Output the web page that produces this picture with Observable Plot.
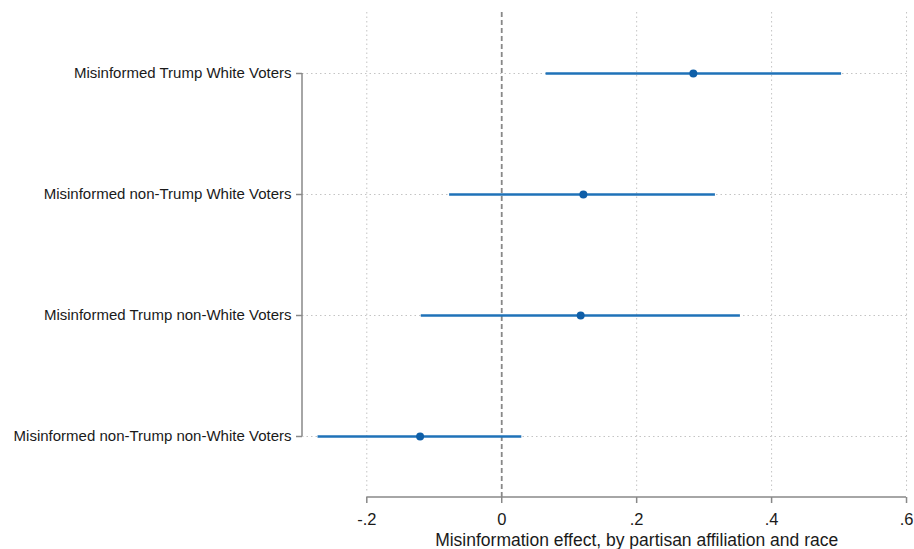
<!DOCTYPE html>
<html><head><meta charset="utf-8">
<script src="https://cdn.jsdelivr.net/npm/d3@7"></script>
<script src="https://cdn.jsdelivr.net/npm/@observablehq/plot@0.6"></script>
<style>body{margin:0;background:#fff;} svg{display:block}</style>
</head><body><div id="chart"></div>
<script>
const groups = [
  "Misinformed Trump White Voters",
  "Misinformed non-Trump White Voters",
  "Misinformed Trump non-White Voters",
  "Misinformed non-Trump non-White Voters"
];
const estimates = [0.284, 0.121, 0.117, -0.121];
const lowerCI = [0.065, -0.078, -0.120, -0.273];
const upperCI = [0.503, 0.316, 0.353, 0.029];
const xTicks = [-0.2, 0, 0.2, 0.4, 0.6];
const xTickLabels = ["-.2", "0", ".2", ".4", ".6"];
const xTitle = "Misinformation effect, by partisan affiliation and race";

const data = groups.map((g, i) => ({group: g, est: estimates[i], lo: lowerCI[i], hi: upperCI[i]}));
const xDomain = [-0.2953, 0.6044];
const gridTicks = xTicks.filter(v => v !== 0);
const W = 914, H = 549, MB = 52, ML = 302;

const chart = Plot.plot({
  width: W, height: H,
  marginLeft: ML, marginRight: 5, marginTop: 12, marginBottom: MB,
  style: {fontFamily: "Arial, 'Liberation Sans', sans-serif", fontSize: "15px", color: "#1a1a1a", background: "#fff"},
  x: {domain: xDomain},
  y: {type: "point", domain: groups, padding: 0.5},
  marks: [
    Plot.ruleX(gridTicks, {stroke: "#c4c4c4", strokeDasharray: "1.5,3", strokeWidth: 1, insetBottom: 6}),
    Plot.ruleY(groups, {y: d => d, stroke: "#c4c4c4", strokeDasharray: "1.5,3", strokeWidth: 1}),
    Plot.ruleX([0], {stroke: "#888", strokeWidth: 1.8, strokeDasharray: "5,3"}),
    Plot.axisY({tickSize: 6, tickPadding: 5, stroke: "#888", strokeWidth: 1.5, label: null, fontSize: 15, fill: "#1a1a1a"}),
    Plot.axisX({ticks: xTicks, tickFormat: d => xTickLabels[xTicks.indexOf(d)], tickSize: 6, tickPadding: 10, label: null, stroke: "#888", strokeWidth: 1.5, fontSize: 16.5, fill: "#1a1a1a"}),
    Plot.link(data, {x1: "lo", x2: "hi", y1: "group", y2: "group", stroke: "#1f72b8", strokeWidth: 2.5}),
    Plot.dot(data, {x: "est", y: "group", r: 4, fill: "#0f5fa8"}),
    Plot.text([xTitle], {x: () => (xTicks[0] + xTicks[xTicks.length - 1]) / 2, text: d => d, frameAnchor: "bottom", dy: 48, fontSize: 17.5, fill: "#1a1a1a"})
  ]
});

const xs = chart.scale("x");
const ys = chart.scale("y");
const svg = d3.select(chart);
svg.append("line")
  .attr("x1", xs.apply(xTicks[0])).attr("x2", xs.apply(xTicks[xTicks.length - 1]))
  .attr("y1", H - MB).attr("y2", H - MB)
  .attr("stroke", "#888").attr("stroke-width", 1.5);
svg.append("line")
  .attr("x1", ML).attr("x2", ML)
  .attr("y1", ys.apply(groups[0])).attr("y2", ys.apply(groups[groups.length - 1]))
  .attr("stroke", "#888").attr("stroke-width", 1.5);

document.getElementById("chart").appendChild(chart);
</script>
</body></html>
